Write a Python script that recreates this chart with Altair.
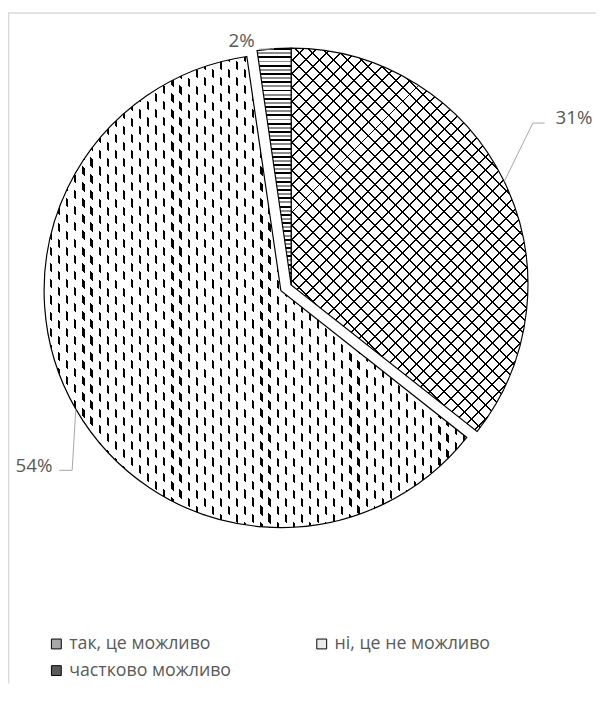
import math
import altair as alt
import pandas as pd

# ---------------- data ----------------
CATEGORIES = ["так, це можливо", "ні, це не можливо", "частково можливо"]
VALUES = [31, 54, 2]

# ---------------- layout / style ----------------
W, H = 596, 680
CX, CY, R = 287, 276, 240
EXPLODE = [0, 12, 0]
ELBOW = [(532, 112), (65, 464), (267, 37)]
LINE_END_X = [544, 52, 255]
LABEL_POS = [(555, 107), (45, 460), (250, 29)]
LABEL_ALIGN = ["left", "right", "right"]
LEGEND_FILLS = ["#a8a8a8", "#ececec", "#5a5a5a"]
TEXT_GRAY = "#595959"
LEADER_GRAY = "#a6a6a6"
FONT = "Open Sans"
FS = 19
LFS = 18

df = pd.DataFrame({
    "idx": list(range(len(VALUES))),
    "category": CATEGORIES,
    "value": VALUES,
    "explode": EXPLODE,
    "elx": [p[0] for p in ELBOW],
    "ely": [p[1] for p in ELBOW],
    "endx": LINE_END_X,
    "lx": [p[0] for p in LABEL_POS],
    "ly": [p[1] for p in LABEL_POS],
    "align": LABEL_ALIGN,
})

base = (
    alt.Chart(df)
    .transform_joinaggregate(total="sum(value)")
    .transform_window(cum="sum(value)", sort=[alt.SortField("idx")], frame=[None, 0])
    .transform_calculate(
        a0="2*PI*(datum.cum-datum.value)/datum.total",
        a1="2*PI*datum.cum/datum.total",
    )
    .transform_calculate(mid="(datum.a0+datum.a1)/2")
    .transform_calculate(
        cx=f"{CX}+datum.explode*sin(datum.mid)",
        cy=f"{CY}-datum.explode*cos(datum.mid)",
    )
    .transform_calculate(
        ex=f"datum.cx+{R}*sin(datum.mid)",
        ey=f"datum.cy-{R}*cos(datum.mid)",
    )
)

# ---------- pattern helpers (gradient stripes in bbox units) ----------
def sector_bbox(a0, a1, r):
    pts = [(0.0, 0.0), (r * math.sin(a0), -r * math.cos(a0)), (r * math.sin(a1), -r * math.cos(a1))]
    for k in range(5):
        ang = k * math.pi / 2
        if a0 < ang < a1:
            pts.append((r * math.sin(ang), -r * math.cos(ang)))
    xs = [p[0] for p in pts]
    ys = [p[1] for p in pts]
    return max(xs) - min(xs), max(ys) - min(ys)

total = sum(VALUES)
BBOX = []
acc = 0
for v in VALUES:
    a0 = 2 * math.pi * acc / total
    acc += v
    a1 = 2 * math.pi * acc / total
    BBOX.append(sector_bbox(a0, a1, R))


def stripes(segments, span, coords):
    stops = []
    pos = 0.0
    i = 0
    while pos < span - 1e-9:
        color, ln = segments[i % len(segments)]
        a = pos / span
        b = min(pos + ln, span) / span
        stops.append(alt.GradientStop(color=color, offset=round(a, 6)))
        stops.append(alt.GradientStop(color=color, offset=round(b, 6)))
        pos += ln
        i += 1
    x1, y1, x2, y2 = coords
    return alt.LinearGradient(gradient="linear", stops=stops, x1=x1, y1=y1, x2=x2, y2=y2)


def back_diag(w, h):  # lines along Y - X = const
    lam = (w + h) / (w * w + h * h)
    return (1, 0, 1 - lam * w, lam * h), w + h


def fwd_diag(w, h):  # lines along X + Y = const
    lam = (w + h) / (w * w + h * h)
    return (0, 0, lam * w, lam * h), w + h


CLEAR = "rgba(255,255,255,0)"

# slice 0: cross-hatch
w0, h0 = BBOX[0]
c, s = back_diag(w0, h0)
fill0a = stripes([("white", 12), ("black", 2)], s, c)
c, s = fwd_diag(w0, h0)
fill0b = stripes([(CLEAR, 12), ("black", 2)], s, c)

# slice 1: staggered vertical dashes
w1, h1 = BBOX[1]
fill1a = stripes([("white", 6), ("black", 2.2)], w1, (0, 0, 1, 0))
c, s = back_diag(w1, h1)
fill1b = stripes([("white", 8.2), (CLEAR, 8.2)], s, c)

# slice 2: horizontal lines
w2, h2 = BBOX[2]
fill2 = stripes([("black", 2), ("white", 2.2), ("#8c8c8c", 2), ("white", 2.2)], h2, (0, 0, 0, 1))


def arc_layer(k, fill, outline):
    kw = dict(fill=fill, radius=R, radius2=0)
    if outline:
        kw.update(stroke="black", strokeWidth=1.2)
    else:
        kw.update(strokeWidth=0)
    return base.transform_filter(f"datum.idx == {k}").mark_arc(**kw).encode(
        theta=alt.Theta("a0:Q", scale=None),
        theta2=alt.Theta2("a1:Q"),
        x=alt.X("cx:Q", scale=None),
        y=alt.Y("cy:Q", scale=None),
    )


arcs = [
    arc_layer(0, fill0a, False),
    arc_layer(0, fill0b, True),
    arc_layer(1, fill1a, False),
    arc_layer(1, fill1b, True),
    arc_layer(2, fill2, True),
]

leader1 = base.mark_rule(color=LEADER_GRAY, strokeWidth=1).encode(
    x=alt.X("ex:Q", scale=None), y=alt.Y("ey:Q", scale=None),
    x2=alt.X2("elx:Q"), y2=alt.Y2("ely:Q"),
)
leader2 = base.mark_rule(color=LEADER_GRAY, strokeWidth=1).encode(
    x=alt.X("elx:Q", scale=None), y=alt.Y("ely:Q", scale=None),
    x2=alt.X2("endx:Q"), y2=alt.Y2("ely:Q"),
)


def label_layer(al):
    return (
        base.transform_filter(f"datum.align == '{al}'")
        .transform_calculate(label="datum.value + '%'")
        .mark_text(font=FONT, fontSize=FS, color=TEXT_GRAY, align=al, baseline="middle")
        .encode(x=alt.X("lx:Q", scale=None), y=alt.Y("ly:Q", scale=None), text="label:N")
    )


legend_layer = alt.Chart(df).mark_square(opacity=0).encode(
    x=alt.value(0),
    y=alt.value(0),
    fill=alt.Fill(
        "category:N",
        scale=alt.Scale(domain=CATEGORIES, range=LEGEND_FILLS),
        legend=alt.Legend(
            title=None,
            orient="none",
            direction="horizontal",
            legendX=40,
            legendY=631,
            columns=2,
            columnPadding=82,
            rowPadding=9,
            padding=0,
            symbolType="square",
            symbolSize=100,
            symbolStrokeColor="black",
            symbolStrokeWidth=1,
            symbolOpacity=1,
            labelFont=FONT,
            labelFontSize=LFS,
            labelColor=TEXT_GRAY,
            labelOffset=4,
            labelLimit=400,
        ),
    ),
)

frame_df = pd.DataFrame({"a": [0]})
frame_left = alt.Chart(frame_df).mark_rule(color="#d9d9d9", strokeWidth=1.5).encode(
    x=alt.value(0.5), y=alt.value(0), y2=alt.value(H)
)
frame_top = alt.Chart(frame_df).mark_rule(color="#d9d9d9", strokeWidth=1.5).encode(
    x=alt.value(0), x2=alt.value(W), y=alt.value(0.5)
)

chart = alt.layer(
    frame_left, frame_top, *arcs, leader1, leader2,
    label_layer("left"), label_layer("right"), legend_layer,
).properties(
    width=W, height=H, padding=0, autosize=alt.AutoSizeParams(type="none"),
    background="white",
).configure_view(stroke=None)

chart.save("out.html", embed_options={"renderer": "svg", "actions": False})
